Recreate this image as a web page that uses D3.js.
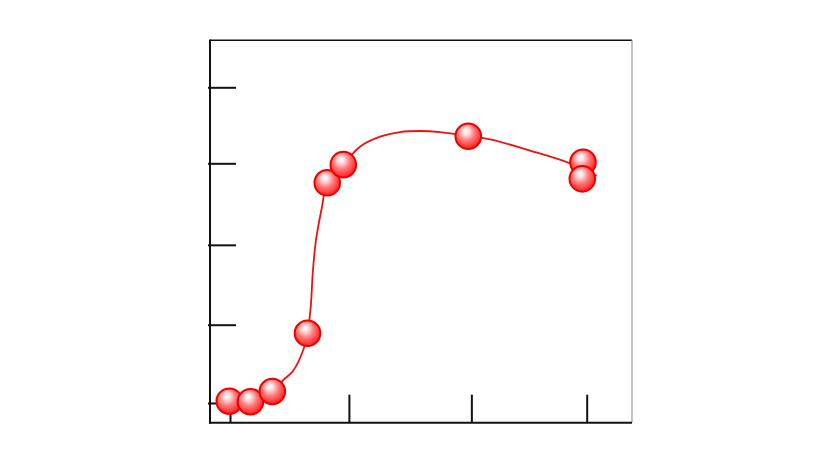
<!DOCTYPE html>
<html>
<head>
<meta charset="utf-8">
<script src="https://cdn.jsdelivr.net/npm/d3@7"></script>
<style>
  html, body { margin: 0; padding: 0; background: #ffffff; }
  svg { display: block; }
</style>
</head>
<body>
<svg id="chart" width="840" height="464"></svg>
<script>
// ---- data (arbitrary units, no labels shown) ----
const pointX = [-0.06, 1.72, 3.56, 6.52, 8.18, 9.53, 20.04, 29.69, 29.63];
const pointY = [0.023, 0.016, 0.146, 0.883, 2.79, 3.02, 3.38, 3.05, 2.84];

const fitX = [-0.06, 1.68, 3.56, 4.48, 5.30, 6.16, 6.52, 6.79, 6.96, 7.23, 7.74, 8.18, 9.53, 10.93, 12.62, 14.30, 15.98, 17.66, 20.04, 21.87, 25.23, 28.60, 30.84];
const fitY = [0.023, 0.044, 0.146, 0.291, 0.406, 0.671, 0.883, 1.22, 1.647, 2.065, 2.487, 2.79, 3.02, 3.247, 3.374, 3.433, 3.446, 3.433, 3.383, 3.341, 3.199, 3.037, 2.88];

const xTickValues = [0, 10, 20.3, 30];
const yTickValues = [0, 0.992, 2.004, 3.037, 4];

// ---- layout ----
const svg = d3.select("#chart");
const frame = { left: 210, right: 632, top: 40.3, bottom: 422.7 };

const x = d3.scaleLinear().domain([0, 30]).range([230, 586.7]);
const y = d3.scaleLinear().domain([0, 4]).range([403, 87.3]);

// gradient for the balls
const defs = svg.append("defs");
const grad = defs.append("radialGradient")
  .attr("id", "ball")
  .attr("cx", "45%").attr("cy", "40%").attr("r", "60%")
  .attr("fx", "40%").attr("fy", "30%");
grad.append("stop").attr("offset", "0%").attr("stop-color", "#ffffff");
grad.append("stop").attr("offset", "18%").attr("stop-color", "#ffe6e6");
grad.append("stop").attr("offset", "55%").attr("stop-color", "#ff7878");
grad.append("stop").attr("offset", "100%").attr("stop-color", "#ff1c1c");

// frame: top and right lighter
svg.append("line")
  .attr("x1", frame.left).attr("x2", frame.right)
  .attr("y1", frame.top).attr("y2", frame.top)
  .attr("stroke", "#111").attr("stroke-width", 1.6);
svg.append("line")
  .attr("x1", frame.right).attr("x2", frame.right)
  .attr("y1", frame.top).attr("y2", frame.bottom)
  .attr("stroke", "#9a9a9a").attr("stroke-width", 1.2);

// y axis (ticks pointing inward)
const yAxis = d3.axisRight(y).tickValues(yTickValues).tickSize(28).tickFormat("");
const gy = svg.append("g").attr("transform", `translate(${frame.left - 2},0)`).call(yAxis);
gy.select(".domain").remove();
gy.selectAll(".tick line").attr("stroke", "#111").attr("stroke-width", 2);

// x axis (ticks pointing inward)
const xAxis = d3.axisTop(x).tickValues(xTickValues).tickSize(28).tickFormat("");
const gx = svg.append("g").attr("transform", `translate(0,${frame.bottom})`).call(xAxis);
gx.select(".domain").remove();
gx.selectAll(".tick line").attr("stroke", "#111").attr("stroke-width", 2);

// left & bottom axis lines
svg.append("line")
  .attr("x1", frame.left).attr("x2", frame.left)
  .attr("y1", frame.top - 0.8).attr("y2", frame.bottom + 1)
  .attr("stroke", "#111").attr("stroke-width", 2);
svg.append("line")
  .attr("x1", frame.left - 1).attr("x2", frame.right)
  .attr("y1", frame.bottom).attr("y2", frame.bottom)
  .attr("stroke", "#111").attr("stroke-width", 2);

// fitted curve
const fit = fitX.map((v, i) => [v, fitY[i]]);
const line = d3.line()
  .x(d => x(d[0])).y(d => y(d[1]))
  .curve(d3.curveCatmullRom.alpha(0.5));
svg.append("path")
  .attr("d", line(fit))
  .attr("fill", "none")
  .attr("stroke", "#ee1111")
  .attr("stroke-width", 1.8);

// points
const pts = pointX.map((v, i) => [v, pointY[i]]);
svg.append("g").selectAll("circle")
  .data(pts)
  .join("circle")
  .attr("cx", d => x(d[0]))
  .attr("cy", d => y(d[1]))
  .attr("r", 12.8)
  .attr("fill", "url(#ball)")
  .attr("stroke", "#ee0000")
  .attr("stroke-width", 2);
</script>
</body>
</html>
